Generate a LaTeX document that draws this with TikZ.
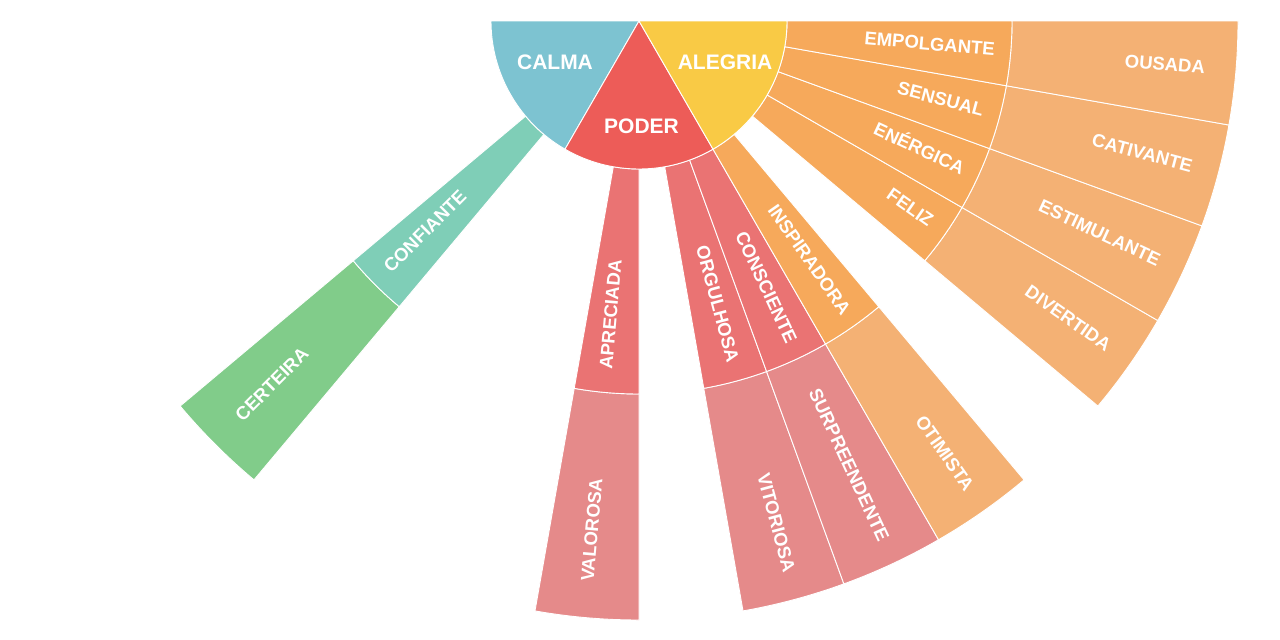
\documentclass[tikz,border=0pt]{standalone}
\usepackage{fontspec}
\setmainfont{Liberation Sans}
\definecolor{calma}{HTML}{7DC3D1}
\definecolor{poder}{HTML}{ED5C58}
\definecolor{alegria}{HTML}{F9CA45}
\definecolor{podA}{HTML}{EA7373}
\definecolor{podB}{HTML}{E58A8A}
\definecolor{aleA}{HTML}{F6A95B}
\definecolor{aleB}{HTML}{F4B174}
\definecolor{calA}{HTML}{7FCEB7}
\definecolor{calB}{HTML}{81CC8A}
\newcommand\ringseg[5]{%
  \fill[#1, draw=white, line width=0.9pt] (#2:#4pt) arc[start angle=#2, end angle=#3, radius=#4pt]
    -- (#3:#5pt) arc[start angle=#3, end angle=#2, radius=#5pt] -- cycle;}
\newcommand\coreseg[4]{%
  \fill[#1, draw=white, line width=0.9pt] (0,0) -- (#2:#4pt) arc[start angle=#2, end angle=#3, radius=#4pt] -- cycle;}
\newcommand\rlab[4]{\node[ringlab, rotate=#2, anchor=east] (#1) at (#2:#3pt) {#4};}
\newcommand\llab[4]{\node[ringlab, rotate=#2-180, anchor=west] (#1) at (#2:#3pt) {#4};}
\tikzset{
  ringlab/.style={text=white, inner sep=0pt, text height=0.72em, text depth=0pt,
    font=\bfseries\fontsize{18.5}{20}\selectfont},
  corelab/.style={text=white, inner sep=0pt, font=\bfseries\fontsize{21}{24}\selectfont}
}
\begin{document}
\begin{tikzpicture}[x=1pt,y=1pt]
\useasboundingbox (0,-640) rectangle (1280,0);
\begin{scope}[shift={(639,-21)}]
% ring 3
\ringseg{calB}{220}{230}{373}{599}
\ringseg{podB}{260}{270}{373}{599}
\ringseg{podB}{280}{290}{373}{599}
\ringseg{podB}{290}{300}{373}{599}
\ringseg{aleB}{300}{310}{373}{599}
\ringseg{aleB}{320}{330}{373}{599}
\ringseg{aleB}{330}{340}{373}{599}
\ringseg{aleB}{340}{350}{373}{599}
\ringseg{aleB}{350}{360}{373}{599}
% ring 2
\ringseg{calA}{220}{230}{148}{373}
\ringseg{podA}{260}{270}{148}{373}
\ringseg{podA}{280}{290}{148}{373}
\ringseg{podA}{290}{300}{148}{373}
\ringseg{aleA}{300}{310}{148}{373}
\ringseg{aleA}{320}{330}{148}{373}
\ringseg{aleA}{330}{340}{148}{373}
\ringseg{aleA}{340}{350}{148}{373}
\ringseg{aleA}{350}{360}{148}{373}
% core
\coreseg{calma}{180}{240}{148}
\coreseg{poder}{240}{300}{148}
\coreseg{alegria}{300}{360}{148}
% ring 2 labels
\llab{confiante}{225}{354}{CONFIANTE}
\llab{apreciada}{265}{350}{APRECIADA}
\rlab{orgulhosa}{285}{354}{ORGULHOSA}
\rlab{consciente}{295}{356}{CONSCIENTE}
\rlab{inspiradora}{305}{358}{INSPIRADORA}
\rlab{feliz}{325}{355}{FELIZ}
\rlab{energica}{335}{357}{ENÉRGICA}
\rlab{sensual}{345}{356}{SENSUAL}
\rlab{empolgante}{355}{357}{EMPOLGANTE}
% ring 3 labels
\llab{certeira}{225}{564}{CERTEIRA}
\llab{valorosa}{265}{563}{VALOROSA}
\rlab{vitoriosa}{285}{571}{VITORIOSA}
\rlab{surpreendente}{295}{574}{SURPREENDENTE}
\rlab{otimista}{305}{573}{OTIMISTA}
\rlab{divertida}{325}{572}{DIVERTIDA}
\rlab{estimulante}{335}{573}{ESTIMULANTE}
\rlab{cativante}{345}{572}{CATIVANTE}
\rlab{ousada}{355}{568}{OUSADA}
\end{scope}
% core labels
\node[corelab] (calmaL) at (555,-62) {CALMA};
\node[corelab] (poderL) at (641.5,-126.5) {PODER};
\node[corelab] (alegriaL) at (725,-62) {ALEGRIA};
\end{tikzpicture}
\end{document}
